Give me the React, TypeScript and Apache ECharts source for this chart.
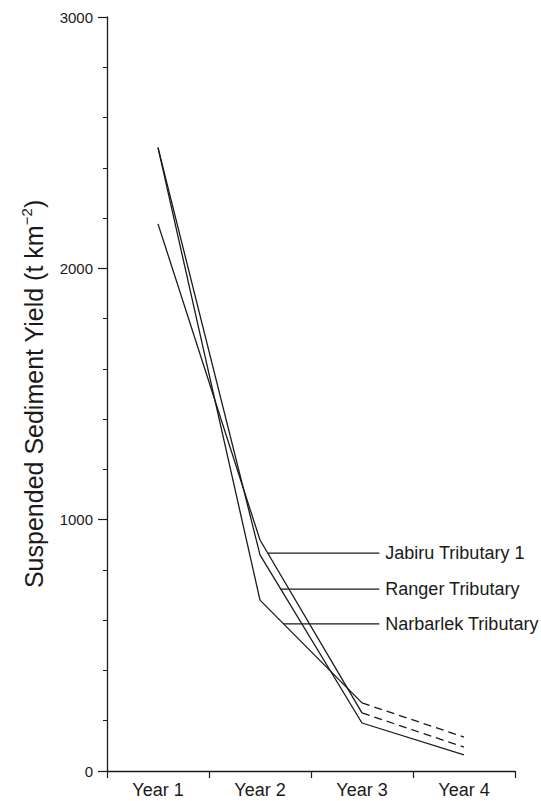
import React, { useEffect, useRef } from "react";
import * as echarts from "echarts";

const categories = ["Year 1", "Year 2", "Year 3", "Year 4"];
const narbarlek = [2480, 680, 271, 135];
const ranger = [2480, 860, 191, 64];
const jabiru = [2177, 919, 231, 95];
const yMin = 0;
const yMax = 3000;
const yInterval = 1000;
const labelNames = ["Jabiru Tributary 1", "Ranger Tributary", "Narbarlek Tributary"];
const labelLevels = [867, 724, 585];

const INK = "#1a1a1a";
const FONT = "'Liberation Sans', Arial, Helvetica, sans-serif";

function solidPart(vals: number[], dashFrom: number | null) {
  return vals.map((v, i) => (dashFrom === null || i <= dashFrom ? v : null));
}
function dashPart(vals: number[], dashFrom: number) {
  return vals.map((v, i) => (i >= dashFrom ? v : null));
}

export default function App() {
  const ref = useRef<HTMLDivElement>(null);
  useEffect(() => {
    if (!ref.current) return;
    const chart = echarts.init(ref.current, null, { renderer: "svg" });
    const lineStyle = { color: INK, width: 1.3 };
    const dashStyle = { color: INK, width: 1.3, type: [8, 5] as any };
    const mk = (name: string, data: (number | null)[], ls: any) => ({
      name,
      type: "line",
      data,
      symbol: "none",
      lineStyle: ls,
      itemStyle: { color: INK },
      connectNulls: false,
      silent: true,
    });
    const option: any = {
      animation: false,
      backgroundColor: "#ffffff",
      textStyle: { fontFamily: FONT },
      grid: { left: 107, right: 26, top: 17, bottom: 30 },
      xAxis: {
        type: "category",
        data: categories,
        boundaryGap: true,
        axisLine: { show: true, lineStyle: { color: INK, width: 1.3 } },
        axisTick: { show: true, length: 7, lineStyle: { color: INK, width: 1.2 } },
        axisLabel: { color: INK, fontSize: 18, margin: 10, fontFamily: FONT },
        splitLine: { show: false },
      },
      yAxis: {
        type: "value",
        min: yMin,
        max: yMax,
        interval: yInterval,
        name: "Suspended Sediment Yield (t km{sup|−2})",
        nameLocation: "middle",
        nameGap: 53,
        nameRotate: 90,
        nameTextStyle: {
          color: INK,
          fontSize: 25,
          fontFamily: FONT,
          lineHeight: 30,
          rich: {
            sup: { fontSize: 15, lineHeight: 30, verticalAlign: "top", color: INK, fontFamily: FONT },
          },
        },
        axisLine: { show: true, lineStyle: { color: INK, width: 1.3 } },
        axisTick: { show: true, length: 9, lineStyle: { color: INK, width: 1.2 } },
        minorTick: { show: true, splitNumber: 5, length: 4, lineStyle: { color: INK, width: 1 } },
        axisLabel: {
          color: INK,
          fontSize: 15,
          margin: 14,
          fontFamily: FONT,
          formatter: (v: number) => String(v),
        },
        splitLine: { show: false },
        minorSplitLine: { show: false },
      },
      series: [
        mk("Narbarlek Tributary", solidPart(narbarlek, 2), lineStyle),
        mk("Narbarlek Tributary dashed", dashPart(narbarlek, 2), dashStyle),
        mk("Ranger Tributary", solidPart(ranger, null), lineStyle),
        mk("Jabiru Tributary 1", solidPart(jabiru, 2), lineStyle),
        mk("Jabiru Tributary 1 dashed", dashPart(jabiru, 2), dashStyle),
      ],
    };
    chart.setOption(option);

    const seriesFor = [jabiru, ranger, narbarlek];
    const graphics: any[] = [];
    const p2 = chart.convertToPixel({ gridIndex: 0 }, [2, 0]) as number[];
    const p3 = chart.convertToPixel({ gridIndex: 0 }, [3, 0]) as number[];
    const band = p3[0] - p2[0];
    const endX = p2[0] + band * 0.17;
    labelNames.forEach((name, k) => {
      const vals = seriesFor[k];
      const level = labelLevels[k];
      const a = chart.convertToPixel({ gridIndex: 0 }, [1, vals[1]]) as number[];
      const b = chart.convertToPixel({ gridIndex: 0 }, [2, vals[2]]) as number[];
      const t = (vals[1] - level) / (vals[1] - vals[2]);
      const sx = a[0] + t * (b[0] - a[0]);
      const y = (chart.convertToPixel({ gridIndex: 0 }, [1, level]) as number[])[1];
      graphics.push({
        type: "line",
        silent: true,
        shape: { x1: sx, y1: y, x2: endX, y2: y },
        style: { stroke: INK, lineWidth: 1.3 },
      });
      graphics.push({
        type: "text",
        silent: true,
        x: endX + 6,
        y,
        style: {
          text: name,
          fill: INK,
          fontSize: 18,
          fontFamily: FONT,
          verticalAlign: "middle",
          align: "left",
        },
      });
    });
    chart.setOption({ graphic: graphics });
    return () => chart.dispose();
  }, []);
  return (
    <div
      ref={ref}
      style={{ position: "fixed", left: 0, top: 0, width: 541, height: 801, background: "#fff" }}
    />
  );
}
